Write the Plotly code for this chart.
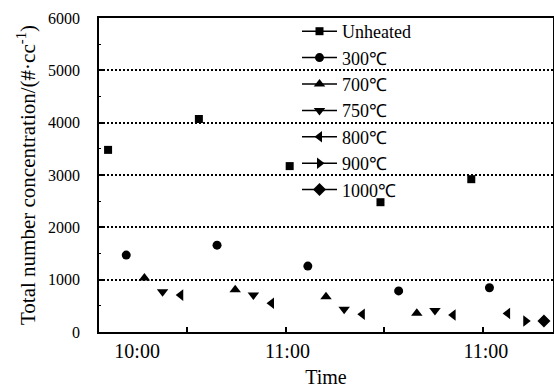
import plotly.graph_objects as go

# Sample index along the time axis (evenly spaced measurements)
series_names = ["Unheated", "300℃", "700℃", "750℃", "800℃", "900℃", "1000℃"]
unheated_x = [0, 5, 10, 15, 20]
unheated_y = [3480, 4070, 3170, 2480, 2920]
t300_x = [1, 6, 11, 16, 21]
t300_y = [1470, 1660, 1260, 785, 845]
t700_x = [2, 7, 12, 17]
t700_y = [1030, 805, 675, 360]
t750_x = [3, 8, 13, 18]
t750_y = [770, 705, 435, 410]
t800_x = [4, 9, 14, 19, 22]
t800_y = [705, 550, 340, 325, 355]
t900_x = [23]
t900_y = [210]
t1000_x = [24]
t1000_y = [210]

xtick_label_pos = [1.6, 9.88, 20.8]
xtick_labels = ["10:00", "11:00", "11:00"]
xtick_mark_pos = [4.36, 9.80, 15.19, 20.62]

symbols = ["square", "circle", "triangle-up", "triangle-down", "triangle-left", "triangle-right", "diamond"]
sizes = [8, 9, 10, 10, 10, 10, 10]
data = [(unheated_x, unheated_y), (t300_x, t300_y), (t700_x, t700_y), (t750_x, t750_y),
        (t800_x, t800_y), (t900_x, t900_y), (t1000_x, t1000_y)]


def gapped(xs, ys):
    gx, gy = [], []
    for a, b in zip(xs, ys):
        gx += [a, None]
        gy += [b, None]
    return gx, gy


fig = go.Figure()
for name, (xs, ys), sym, sz in zip(series_names, data, symbols, sizes):
    gx, gy = gapped(xs, ys)
    fig.add_trace(go.Scatter(
        x=gx, y=gy, name=name, mode="lines+markers", connectgaps=False,
        line=dict(color="black", width=1.5),
        marker=dict(symbol=sym, size=sz, color="black"),
    ))

# white panel behind the legend that hides the gridlines
fig.add_shape(type="rect", xref="paper", yref="paper",
              x0=(291 - 99) / 454, x1=(422 - 99) / 454, y0=(332 - 196) / 314, y1=1,
              fillcolor="white", line=dict(width=0), layer="between")

font_family = "'Liberation Serif', 'Times New Roman', serif"
fig.update_layout(
    width=554, height=389,
    margin=dict(l=99, r=1, t=18, b=57, autoexpand=False),
    paper_bgcolor="white", plot_bgcolor="white",
    font=dict(family=font_family, color="black", size=20),
    showlegend=True,
    legend=dict(x=(297 - 99) / 454, y=1 + 5 / 314, xanchor="left", yanchor="top",
                bgcolor="rgba(0,0,0,0)", borderwidth=0, font=dict(size=18, family=font_family),
                tracegroupgap=0, itemwidth=35, maxheight=360),
    xaxis=dict(
        automargin=False,
        range=[-0.5, 24.5], showline=True, linecolor="black", linewidth=1.5,
        mirror=True, showgrid=False, zeroline=False,
        tickmode="array", tickvals=xtick_label_pos, ticktext=xtick_labels,
        ticks="", tickfont=dict(size=20, family=font_family),
        minor=dict(tickmode="array", tickvals=xtick_mark_pos, ticks="inside",
                   ticklen=5, tickwidth=1.5, tickcolor="black", showgrid=False),
        title=dict(text="Time", font=dict(size=20, family=font_family), standoff=9),
    ),
    yaxis=dict(
        automargin=False,
        range=[0, 6000], showline=True, linecolor="black", linewidth=1.5,
        mirror=True, zeroline=False,
        tickmode="linear", tick0=0, dtick=1000, ticks="inside", ticklen=4,
        tickwidth=1.5, tickcolor="black", tickfont=dict(size=16, family=font_family),
        showgrid=True, gridcolor="black", gridwidth=1.5, griddash="1.5px,2.5px",
        minor=dict(dtick=500, ticks="inside", ticklen=2, tickwidth=1.2,
                   tickcolor="black", showgrid=False),
        ticklabelstandoff=14,
        title=dict(text="Total number concentration/(#·cc<sup>-1</sup>)",
                   font=dict(size=21, family=font_family), standoff=7),
    ),
)

fig.write_html("out.html", config={"displayModeBar": False},
               post_script="document.body.style.margin='0';document.body.style.padding='0';")
